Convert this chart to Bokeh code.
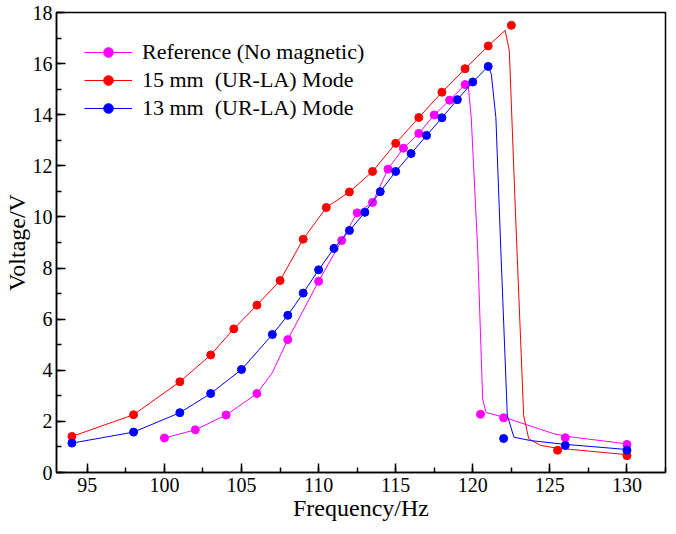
from bokeh.plotting import figure
from bokeh.models import Range1d, SingleIntervalTicker
from bokeh.embed import file_html
from bokeh.resources import INLINE

# measured points
ref_x = [100, 102, 104, 106, 108, 110, 111.5, 112.5, 113.5, 114.5, 115.5, 116.5,
         117.5, 118.5, 119.5, 120.5, 122, 126, 130]
ref_y = [1.35, 1.67, 2.25, 3.09, 5.2, 7.48, 9.08, 10.16, 10.57, 11.87, 12.69, 13.27,
         13.99, 14.57, 15.18, 2.28, 2.14, 1.36, 1.10]

r15_x = [94, 98, 101, 103, 104.5, 106, 107.5, 109, 110.5, 112, 113.5, 115, 116.5,
         118, 119.5, 121, 122.5, 125.5, 130]
r15_y = [1.41, 2.26, 3.55, 4.6, 5.62, 6.55, 7.51, 9.13, 10.37, 10.98, 11.78, 12.88, 13.89,
         14.88, 15.80, 16.69, 17.5, 0.87, 0.66]

r13_x = [94, 98, 101, 103, 105, 107, 108, 109, 110, 111, 112, 113, 114, 115, 116,
         117, 118, 119, 120, 121, 122, 126, 130]
r13_y = [1.15, 1.58, 2.34, 3.09, 4.03, 5.40, 6.15, 7.02, 7.93, 8.77, 9.47, 10.18, 10.99,
         11.78, 12.48, 13.19, 13.88, 14.59, 15.28, 15.89, 1.33, 1.06, 0.87]

# fitted curves
ref_cx = [100, 102, 104, 106, 107, 108, 110, 111.5, 112.5, 113.5, 114.5, 115.5, 116.5,
          117.5, 118.5, 119.5, 119.7, 119.9, 120.32, 120.64, 120.86, 122.03, 125.24, 126, 130]
ref_cy = [1.35, 1.67, 2.25, 3.09, 3.91, 5.2, 7.48, 9.08, 10.16, 10.57, 11.87, 12.69, 13.27,
          13.99, 14.57, 15.18, 15.18, 13.88, 8.7, 2.87, 2.35, 2.16, 1.52, 1.42, 1.12]

r15_cx = [94, 98, 101, 103, 104.5, 106, 107.5, 109, 110.5, 112, 113.5, 115, 116.5,
          118, 119.5, 121, 122.1, 122.37, 122.78, 123.3, 123.63, 124.4, 125.5, 130]
r15_cy = [1.41, 2.26, 3.55, 4.6, 5.62, 6.55, 7.51, 9.13, 10.37, 10.98, 11.78, 12.88, 13.89,
          14.88, 15.80, 16.69, 17.3, 16.5, 10.0, 2.23, 1.32, 1.06, 0.95, 0.7]

r13_cx = [94, 98, 101, 103, 105, 107, 108, 109, 110, 111, 112, 113, 114, 115, 116,
          117, 118, 119, 120, 121, 121.2, 121.5, 121.82, 122.24, 122.67, 123.74, 126, 130]
r13_cy = [1.15, 1.58, 2.34, 3.09, 4.03, 5.40, 6.15, 7.02, 7.93, 8.77, 9.47, 10.18, 10.99,
          11.78, 12.48, 13.19, 13.88, 14.59, 15.28, 15.89, 15.6, 13.88, 8.7, 2.23, 1.38, 1.25,
          1.1, 0.9]

FONT = "Liberation Serif"

p = figure(width=668, height=526, output_backend="svg", toolbar_location=None,
           x_range=Range1d(93, 132.5), y_range=Range1d(0, 18),
           min_border_left=49, min_border_right=3, min_border_top=12, min_border_bottom=54)

p.xgrid.visible = False
p.ygrid.visible = False
p.outline_line_color = "black"
p.outline_line_width = 1.5
p.outline_line_alpha = 1

p.xaxis.ticker = SingleIntervalTicker(interval=5, num_minor_ticks=2)
p.yaxis.ticker = SingleIntervalTicker(interval=2, num_minor_ticks=2)

for ax in (p.xaxis, p.yaxis):
    ax.axis_line_width = 1.5
    ax.major_tick_line_width = 1.5
    ax.minor_tick_line_width = 1.5
    ax.major_tick_in = 9
    ax.major_tick_out = 0
    ax.minor_tick_in = 5
    ax.minor_tick_out = 0
    ax.major_label_text_font = FONT
    ax.major_label_text_font_size = "20px"
    ax.major_label_text_color = "black"
    ax.axis_label_text_font = FONT
    ax.axis_label_text_font_size = "24px"
    ax.axis_label_text_font_style = "normal"
    ax.axis_label_text_color = "black"

p.xaxis.axis_label = "Frequency/Hz"
p.yaxis.axis_label = "Voltage/V"
p.xaxis.major_label_standoff = 5
p.yaxis.major_label_standoff = 4
p.xaxis.axis_label_standoff = 0
p.yaxis.axis_label_standoff = 0

p.line(ref_cx, ref_cy, color="#FF00FF", line_width=1, legend_label="Reference (No magnetic)")
p.scatter(ref_x, ref_y, size=8, color="#FF00FF", legend_label="Reference (No magnetic)")

p.line(r15_cx, r15_cy, color="#FF0000", line_width=1, legend_label="15 mm  (UR-LA) Mode")
p.scatter(r15_x, r15_y, size=8, color="#FF0000", legend_label="15 mm  (UR-LA) Mode")

p.line(r13_cx, r13_cy, color="#0000FF", line_width=1, legend_label="13 mm  (UR-LA) Mode")
p.scatter(r13_x, r13_y, size=8, color="#0000FF", legend_label="13 mm  (UR-LA) Mode")

p.legend.location = (28, 351)
p.legend.border_line_color = None
p.legend.background_fill_alpha = 0
p.legend.margin = 0
p.legend.padding = 0
p.legend.spacing = 2
p.legend.glyph_width = 48
p.legend.glyph_height = 24
p.legend.label_height = 24
p.legend.label_standoff = 10
p.legend.label_text_font = FONT
p.legend.label_text_font_size = "22px"
p.legend.label_text_color = "black"

open("out.html", "w").write(file_html(p, INLINE))
